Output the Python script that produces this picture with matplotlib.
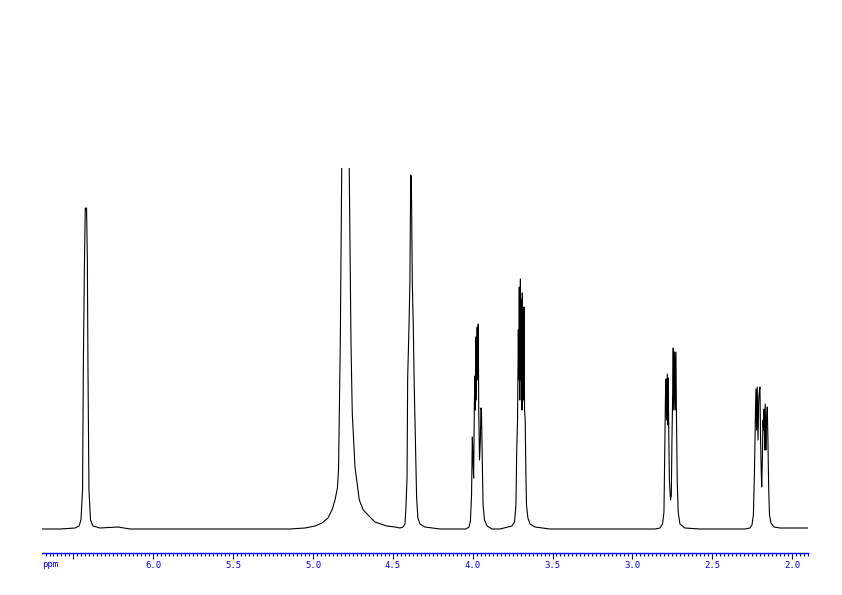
import numpy as np
import matplotlib
matplotlib.use("Agg")
import matplotlib.pyplot as plt
from matplotlib.ticker import MultipleLocator, FixedLocator

# traced 1H NMR trace: chemical shift (ppm) and intensity above baseline (arb. units)
# baseline + singlet at 6.42
ppm_a = [6.697, 6.584, 6.490, 6.465, 6.453, 6.443, 6.438, 6.431, 6.426, 6.421, 6.418,
         6.413, 6.409, 6.403, 6.393, 6.378, 6.334, 6.221, 6.146, 5.708, 5.144]
int_a = [0, 0, 1, 3, 9, 39, 164, 269, 321, 319, 321,
         269, 159, 39, 9, 3, 1, 2, 0, 0, 0]

# HDO at 4.79 (clipped) and singlet at 4.39
ppm_b = [5.050, 4.987, 4.944, 4.906, 4.881, 4.862, 4.847, 4.840, 4.835, 4.829, 4.820,
         4.817, 4.796, 4.776, 4.773, 4.762, 4.754, 4.737, 4.720, 4.710, 4.685, 4.643,
         4.612, 4.538, 4.486, 4.455, 4.436, 4.424, 4.418, 4.411, 4.407, 4.399, 4.393,
         4.388, 4.384, 4.378, 4.372, 4.366, 4.357, 4.351, 4.343, 4.330, 4.299, 4.205, 4.142]
int_b = [1, 3, 6, 11, 19, 29, 41, 59, 116, 186, 361,
         470, 650, 470, 361, 186, 116, 62, 41, 29, 19, 12,
         7, 3, 2, 1, 2, 5, 21, 51, 151, 201, 247,
         354, 351, 247, 204, 144, 74, 31, 11, 5, 2, 0, 0]

# multiplets at 3.97 and 3.70
ppm_c = [4.042, 4.023, 4.014, 4.007, 4.002, 3.998, 3.994, 3.989, 3.986, 3.983, 3.981,
         3.977, 3.973, 3.971, 3.968, 3.965, 3.962, 3.957, 3.952, 3.948, 3.945, 3.940,
         3.935, 3.926, 3.910, 3.879, 3.829,
         3.779, 3.754, 3.738, 3.729, 3.724, 3.719, 3.714, 3.711, 3.708, 3.705, 3.701,
         3.698, 3.694, 3.691, 3.689, 3.685, 3.682, 3.679, 3.675, 3.671, 3.667, 3.663,
         3.654, 3.641, 3.610, 3.516, 3.203, 2.952]
int_c = [0, 2, 8, 34, 92, 69, 51, 129, 153, 119, 192,
         129, 199, 202, 149, 205, 119, 69, 89, 121, 119, 69,
         24, 9, 3, 0, 0,
         2, 3, 7, 24, 79, 109, 199, 149, 242, 129, 250,
         149, 229, 119, 236, 149, 129, 222, 119, 109, 59, 24,
         11, 5, 2, 0, 0, 0]

# multiplets at 2.76 and 2.19
ppm_d = [2.858, 2.827, 2.811, 2.802, 2.796, 2.793, 2.790, 2.786, 2.781, 2.778, 2.775,
         2.772, 2.768, 2.761, 2.756, 2.752, 2.748, 2.744, 2.741, 2.735, 2.732, 2.727,
         2.724, 2.719, 2.713, 2.702, 2.671, 2.577, 2.326,
         2.295, 2.264, 2.251, 2.242, 2.235, 2.230, 2.226, 2.222, 2.218, 2.213, 2.209,
         2.204, 2.201, 2.197, 2.193, 2.190, 2.186, 2.182, 2.178, 2.175, 2.171, 2.168,
         2.164, 2.160, 2.155, 2.151, 2.146, 2.141, 2.132, 2.113, 2.076, 1.900]
int_d = [0, 1, 5, 17, 96, 129, 150, 109, 155, 104, 151,
         96, 49, 29, 34, 89, 129, 181, 119, 177, 119, 177,
         116, 49, 17, 5, 1, 0, 0,
         0, 1, 4, 14, 59, 109, 140, 99, 142, 89, 129,
         139, 142, 89, 59, 42, 69, 109, 99, 120, 79, 125,
         79, 109, 122, 89, 39, 14, 6, 2, 1, 1]

ppm = ppm_a + ppm_b + ppm_c + ppm_d
intensity = int_a + int_b + int_c + int_d

major_ticks = [6.0, 5.5, 5.0, 4.5, 4.0, 3.5, 3.0, 2.5, 2.0]
tick_labels = ["6.0", "5.5", "5.0", "4.5", "4.0", "3.5", "3.0", "2.5", "2.0"]

fig = plt.figure(figsize=(8.42, 5.95), dpi=100)
ax = fig.add_axes([42 / 842, (595 - 552.7) / 595, (808 - 42) / 842, (552.7 - 168) / 595])

ax.plot(ppm, intensity, color="black", lw=0.8)

ax.set_xlim(6.697, 1.900)
ax.set_ylim(-23.7, 361)

for s in ["top", "left", "right"]:
    ax.spines[s].set_visible(False)
ax.spines["bottom"].set_color("#0000ff")
ax.spines["bottom"].set_linewidth(1.0)
ax.set_yticks([])

ax.xaxis.set_major_locator(FixedLocator([6.5] + major_ticks))
ax.set_xticklabels([""] + tick_labels)
ax.xaxis.set_minor_locator(MultipleLocator(0.025))
ax.tick_params(axis="x", which="major", direction="out", length=4.5, width=0.8,
               color="#0000ff", labelcolor="#0000ff", labelsize=6.5, pad=1.5)
ax.tick_params(axis="x", which="minor", direction="out", length=2.2, width=0.8,
               color="#0000ff")
for lab in ax.get_xticklabels():
    lab.set_family("DejaVu Sans Mono")

ax.text(0.0, -0.031, "ppm", transform=ax.transAxes, color="#0000ff",
        fontsize=6.5, family="DejaVu Sans Mono", ha="left", va="center")

fig.savefig("out.png", dpi=100)
